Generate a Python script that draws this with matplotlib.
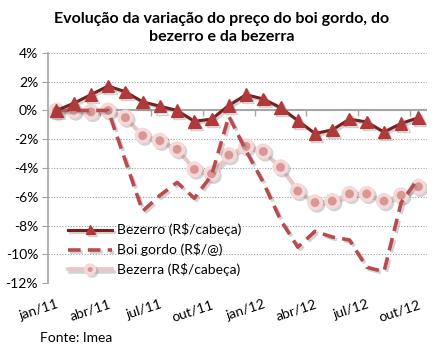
# Evolução da variação do preço do boi gordo, do bezerro e da bezerra
import numpy as np
import matplotlib.pyplot as plt
import matplotlib.patheffects as pe

# DADOS
meses = ["jan/11", "fev/11", "mar/11", "abr/11", "mai/11", "jun/11", "jul/11", "ago/11",
         "set/11", "out/11", "nov/11", "dez/11", "jan/12", "fev/12", "mar/12", "abr/12",
         "mai/12", "jun/12", "jul/12", "ago/12", "set/12", "out/12"]
bezerro = [0.0, 0.5, 1.1, 1.7, 1.3, 0.6, 0.3, 0.0, -0.75, -0.6, 0.35, 1.1,
           0.8, 0.2, -0.7, -1.6, -1.35, -0.6, -0.8, -1.5, -0.9, -0.5]
boi_gordo = [0.0, 0.0, 0.0, 0.0, -3.5, -7.0, -5.9, -5.0, -6.1, -4.5, -0.4, -2.8,
             -5.0, -7.6, -9.5, -8.4, -8.8, -9.0, -10.9, -11.2, -6.4, -4.7]
bezerra = [0.0, 0.0, -0.1, 0.0, -0.5, -1.75, -2.1, -2.7, -4.1, -4.4, -3.1, -2.5,
           -2.85, -3.95, -5.6, -6.4, -6.3, -5.8, -5.8, -6.3, -5.9, -5.3]

plt.rcParams['font.family'] = ['Lato', 'DejaVu Sans']

fig = plt.figure(figsize=(4.43, 3.53), dpi=100)
ax = fig.add_axes([0.108, 0.198, 0.856, 0.652])

x = np.arange(len(meses))
sombra = [pe.SimpleLineShadow(offset=(1.5, -1.5), shadow_color="gray", alpha=0.35), pe.Normal()]

ax.plot(x, bezerro, color="#7a1e1e", lw=2.2, marker="^", markersize=9,
        markerfacecolor="#b0393b", markeredgecolor="#b0393b",
        label="Bezerro (R$/cabeça)", path_effects=sombra, zorder=4)
ax.plot(x, boi_gordo, color="#b94a4d", lw=2.6, dashes=(3.5, 2),
        label="Boi gordo (R$/@)", path_effects=sombra, zorder=3)
ax.plot(x, bezerra, color="#ecc4c3", lw=2.6, marker="o", markersize=9,
        markerfacecolor="#d99694", markeredgecolor="#f4d9d8", markeredgewidth=2.6,
        label="Bezerra (R$/cabeça)", path_effects=sombra, zorder=2)

# EIXOS
ax.set_xlim(-0.5, len(meses) - 0.5)
ax.set_ylim(-12, 4)
ax.set_yticks(np.arange(-12, 5, 2))
ax.set_yticklabels([f"{v}%" for v in range(-12, 5, 2)], fontsize=10)
ax.yaxis.grid(True, linestyle=(0, (1, 1.5)), color="#a0a0a0", lw=0.8)
ax.set_axisbelow(True)
for lado in ["top", "right", "bottom"]:
    ax.spines[lado].set_visible(False)
ax.spines["left"].set_color("#a6a6a6")
ax.spines["left"].set_linewidth(1.2)
ax.tick_params(axis="y", length=4, color="#a6a6a6", pad=3)

# linha do zero com marcas de categoria
ax.axhline(0, color="#a6a6a6", lw=1.5, zorder=1)
marcas = np.arange(-0.5, len(meses), 3)
ax.plot(marcas, np.zeros(len(marcas)), linestyle="none", marker=3, markersize=4,
        color="#a6a6a6", zorder=1)

ax.set_xticks(x[::3])
ax.set_xticklabels(meses[::3], fontsize=10, rotation=18, ha="right",
                   rotation_mode="anchor")
ax.tick_params(axis="x", length=0, pad=11)

ax.legend(loc="lower left", bbox_to_anchor=(0.02, -0.025), frameon=False,
          fontsize=10, handlelength=3.2, handletextpad=0.3, labelspacing=0.5,
          markerscale=0.7)

fig.suptitle("Evolução da variação do preço do boi gordo, do\nbezerro e da bezerra",
             x=0.5, y=0.965, fontsize=11.5, fontweight="bold", linespacing=1.35)
fig.text(0.09, 0.03, "Fonte: Imea", fontsize=10)

fig.savefig("out.png", dpi=100)
